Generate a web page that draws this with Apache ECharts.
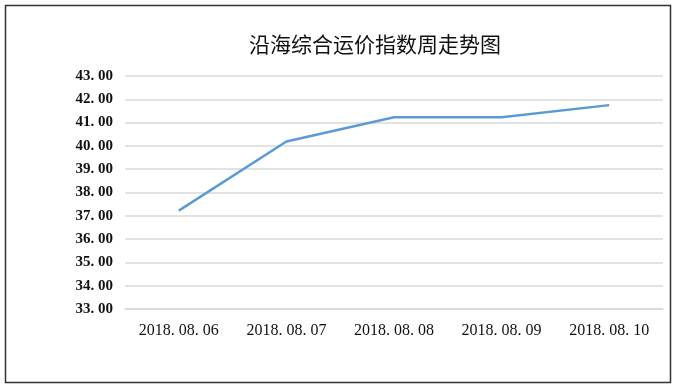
<!DOCTYPE html>
<html>
<head>
<meta charset="utf-8">
<script src="https://cdn.jsdelivr.net/npm/echarts@6/dist/echarts.min.js"></script>
<style>html,body{margin:0;padding:0;background:#fff;}#c{width:677px;height:389px;}</style>
</head>
<body>
<div id="c"></div>
<script>
const categories = ['2018.08.06', '2018.08.07', '2018.08.08', '2018.08.09', '2018.08.10'];
const values = [37.22, 40.19, 41.23, 41.23, 41.75];
const titleText = '沿海综合运价指数周走势图';

const chart = echarts.init(document.getElementById('c'));
const fmt = v => v.toFixed(2).replace('.', '. ');
const labelFont = '"Liberation Serif", "DejaVu Serif", serif';
chart.setOption({
  animation: false,
  title: {
    text: titleText,
    left: 370, top: 29, textAlign: 'center',
    textStyle: { fontFamily: '"Noto Sans CJK SC"', fontSize: 21, fontWeight: 'normal', color: '#111' }
  },
  graphic: [{
    type: 'rect', shape: { x: 5.5, y: 5.5, width: 665, height: 377 },
    style: { fill: 'none', stroke: '#333', lineWidth: 1.5 }, silent: true
  }],
  grid: { left: 125, right: 14, top: 76, bottom: 80, containLabel: false },
  xAxis: {
    type: 'category', data: categories,
    axisLine: { show: true, lineStyle: { color: '#d9d9d9', width: 1.5 } },
    axisTick: { show: false },
    axisLabel: { color: '#111', fontFamily: labelFont, fontSize: 16, margin: 14,
      formatter: v => v.replace(/\./g, '. ') }
  },
  yAxis: {
    type: 'value', min: 33, max: 43, interval: 1,
    axisLine: { show: false }, axisTick: { show: false },
    splitLine: { lineStyle: { color: '#d9d9d9', width: 1.5 } },
    axisLabel: { color: '#111', fontFamily: labelFont, fontSize: 15, fontWeight: 'bold', margin: 12,
      formatter: fmt }
  },
  series: [{
    type: 'line', data: values, symbol: 'none',
    lineStyle: { color: '#5B9BD5', width: 2.5 }
  }]
});
</script>
</body>
</html>
